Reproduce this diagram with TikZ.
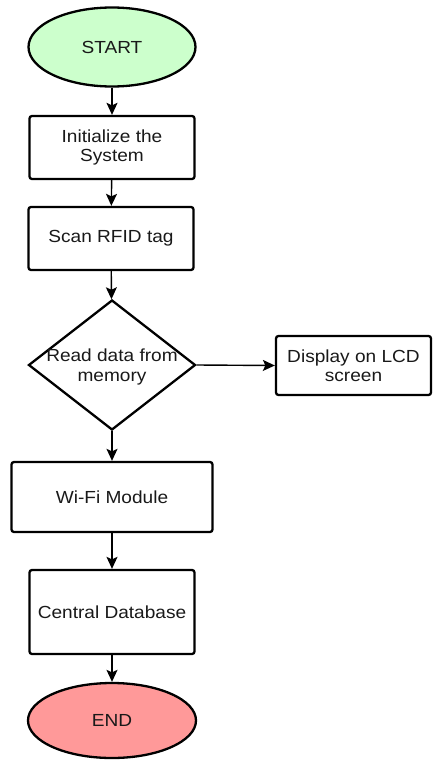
\documentclass[tikz,border=0pt]{standalone}
\usepackage{fontspec}
\setmainfont[FakeStretch=1.09]{Liberation Sans}
\usetikzlibrary{shapes.geometric,arrows.meta}

\definecolor{startgreen}{HTML}{CCFFCC}
\definecolor{endred}{HTML}{FF9999}

\tikzset{
  every node/.style={font=\fontsize{17.5}{19.5}\selectfont, text=black!90, align=center, inner sep=0pt},
  box/.style={draw, line width=2.3pt, rounded corners=2.5pt},
  term/.style={draw, ellipse, line width=2.3pt},
  decide/.style={draw, diamond, line width=2.3pt},
  flow/.style={-{Stealth[length=12pt,width=11pt,inset=2.5pt]}, line width=1.4pt}
}

\begin{document}
\begin{tikzpicture}[x=1pt,y=-1pt]
\useasboundingbox (0,0) rectangle (433,760);

% main column
\node[term, fill=startgreen, minimum width=167pt, minimum height=79pt] (start) at (112,47) {START};
\node[box, minimum width=165pt, minimum height=63pt] (init) at (112,147.5) {Initialize the\\System};
\node[box, minimum width=165pt, minimum height=63pt] (scan) at (111,238.5) {Scan RFID tag};
% text sits on a label so it can run past the diamond's sides
\node[decide, minimum width=167pt, minimum height=130pt,
      label={[yshift=-2pt]center:Read data from\\memory}] (read) at (112,365) {};
\node[box, minimum width=201pt, minimum height=70pt] (wifi) at (112,497) {Wi-Fi Module};
\node[box, minimum width=165pt, minimum height=84pt] (db) at (112,612) {Central Database};
\node[term, fill=endred, minimum width=168pt, minimum height=75pt] (end) at (112,720.5) {END};

% side branch
\node[box, minimum width=155pt, minimum height=59pt] (lcd) at (353.5,365.5) {Display on LCD\\screen};

\draw[flow] (start) -- (init);
\draw[flow] (init) -- (scan);
\draw[flow] (scan) -- (read);
\draw[flow] (read) -- (wifi);
\draw[flow] (wifi) -- (db);
\draw[flow] (db) -- (end);
\draw[flow] (read.east) -- (lcd.west);
\end{tikzpicture}
\end{document}
